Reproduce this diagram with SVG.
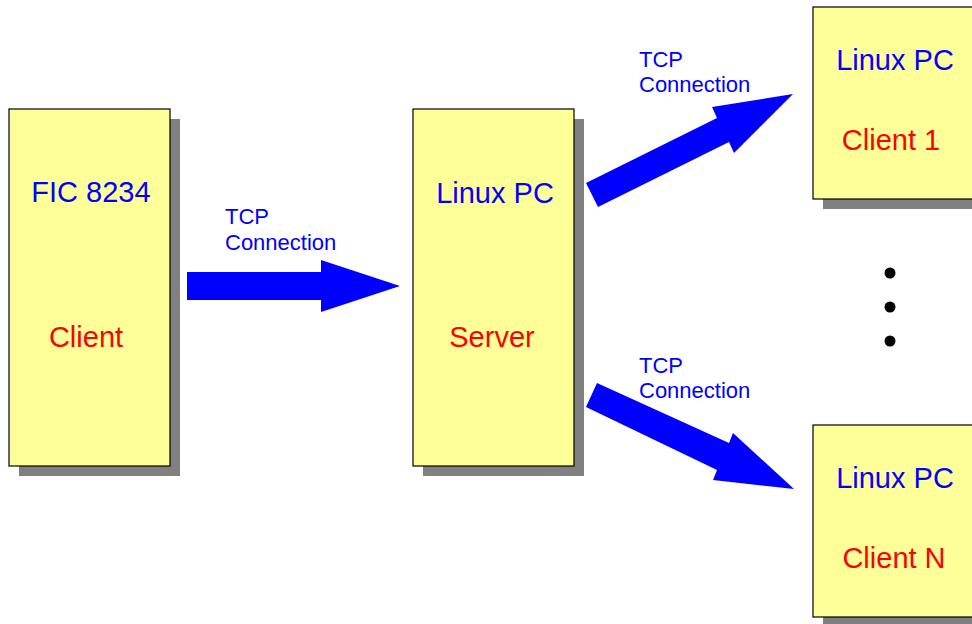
<svg xmlns="http://www.w3.org/2000/svg" width="972" height="624" viewBox="0 0 972 624">
<style>
.shadow{fill:#808080}
.box{fill:#ffff99;stroke:#000;stroke-width:1.2}
.t{font-family:"Liberation Sans",Arial,sans-serif;font-size:29px;text-anchor:middle}
.blue{fill:#0000ff}
.red{fill:#ff0000}
.lbl{font-family:"Liberation Sans",Arial,sans-serif;font-size:22px;fill:#0000ff}
.arrow{fill:#0000ff}
</style>
<rect width="972" height="624" fill="#fff"/>
<g id="fic">
<rect class="shadow" x="19" y="119" width="161" height="357"/>
<rect class="box" x="9" y="109" width="161" height="357"/>
<text class="t blue" x="91" y="202">FIC 8234</text>
<text class="t red" x="86" y="347">Client</text>
</g>
<g id="server">
<rect class="shadow" x="423" y="119" width="161" height="357"/>
<rect class="box" x="413" y="109" width="161" height="357"/>
<text class="t blue" x="495" y="203">Linux PC</text>
<text class="t red" x="492" y="347">Server</text>
</g>
<g id="client1">
<rect class="shadow" x="823" y="17" width="170" height="192"/>
<rect class="box" x="813" y="7" width="170" height="192"/>
<text class="t blue" x="895" y="70">Linux PC</text>
<text class="t red" x="891" y="150">Client 1</text>
</g>
<g id="clientN">
<rect class="shadow" x="823" y="435" width="170" height="192"/>
<rect class="box" x="813" y="425" width="170" height="192"/>
<text class="t blue" x="895" y="488">Linux PC</text>
<text class="t red" x="894" y="568">Client N</text>
</g>
<g id="dots">
<circle cx="890" cy="273" r="5.5"/>
<circle cx="890" cy="307" r="5.5"/>
<circle cx="890" cy="341" r="5.5"/>
</g>
<g id="connectors">
<polygon class="arrow" points="187,272 321,272 321,260 400,286 321,312 321,300 187,300"/>
<polygon class="arrow" points="586,183 717,118 712,107 793,94 734,153 729,142 598,207"/>
<polygon class="arrow" points="597,383 729,443 733,433 794,489 713,480 717,470 586,407"/>
<text class="lbl" x="225" y="224">TCP</text>
<text class="lbl" x="225" y="250">Connection</text>
<text class="lbl" x="639" y="67">TCP</text>
<text class="lbl" x="639" y="92">Connection</text>
<text class="lbl" x="639" y="373">TCP</text>
<text class="lbl" x="639" y="398">Connection</text>
</g>
</svg>
